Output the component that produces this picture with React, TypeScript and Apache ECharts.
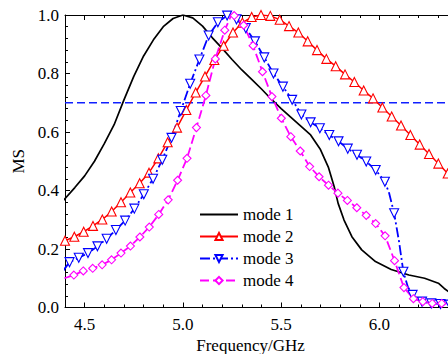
import React, { useEffect, useRef } from "react";
import * as echarts from "echarts";

const FONT = "'Times New Roman', 'Liberation Serif', 'DejaVu Serif', serif";

const seriesNames = ["mode 1", "mode 2", "mode 3", "mode 4"];
const yTicks = ["0.0", "0.2", "0.4", "0.6", "0.8", "1.0"];
const thresholdY = 0.7;

// mode 1 (black, no markers)
const m1X = [4.39, 4.45, 4.5, 4.55, 4.6, 4.65, 4.7, 4.75, 4.8, 4.85, 4.9, 4.95, 5.0, 5.05, 5.1, 5.15, 5.2, 5.25, 5.3, 5.35, 5.4, 5.45, 5.5, 5.55, 5.6, 5.65, 5.7, 5.74, 5.77, 5.79, 5.82, 5.86, 5.91, 5.98, 6.06, 6.15, 6.23, 6.3, 6.33, 6.36];
const m1Y = [0.365, 0.41, 0.45, 0.5, 0.56, 0.625, 0.71, 0.79, 0.86, 0.915, 0.96, 0.988, 1.0, 0.99, 0.962, 0.922, 0.886, 0.848, 0.812, 0.78, 0.747, 0.712, 0.68, 0.65, 0.62, 0.59, 0.54, 0.48, 0.413, 0.356, 0.299, 0.242, 0.197, 0.157, 0.13, 0.111, 0.1, 0.083, 0.065, 0.05];

// mode 2 (red, up triangles)
const m2X = [4.4, 4.4475, 4.495, 4.5425, 4.59, 4.6375, 4.685, 4.7325, 4.78, 4.8275, 4.875, 4.9225, 4.97, 5.0175, 5.065, 5.1125, 5.16, 5.2075, 5.255, 5.3025, 5.35, 5.3975, 5.445, 5.4925, 5.54, 5.5875, 5.635, 5.6825, 5.73, 5.7775, 5.825, 5.8725, 5.92, 5.9675, 6.015, 6.0625, 6.11, 6.1575, 6.205, 6.2525, 6.3, 6.3475];
const m2Y = [0.228, 0.242, 0.259, 0.279, 0.301, 0.328, 0.36, 0.393, 0.425, 0.461, 0.51, 0.565, 0.615, 0.675, 0.735, 0.79, 0.846, 0.895, 0.94, 0.974, 0.993, 1.0, 0.997, 0.984, 0.962, 0.94, 0.91, 0.88, 0.85, 0.825, 0.797, 0.771, 0.742, 0.715, 0.684, 0.653, 0.622, 0.59, 0.557, 0.525, 0.492, 0.458];

// mode 3 (blue, down triangles) marker points and extra curve points
const m3X = [4.423, 4.47, 4.517, 4.565, 4.612, 4.659, 4.706, 4.753, 4.801, 4.848, 4.895, 4.942, 4.989, 5.037, 5.084, 5.131, 5.178, 5.225, 5.273, 5.32, 5.367, 5.414, 5.461, 5.509, 5.556, 5.603, 5.65, 5.697, 5.745, 5.792, 5.839, 5.886, 5.933, 5.981, 6.028, 6.075, 6.122, 6.169, 6.217, 6.264, 6.311, 6.358];
const m3Y = [0.155, 0.17, 0.186, 0.209, 0.235, 0.265, 0.297, 0.338, 0.387, 0.44, 0.505, 0.58, 0.672, 0.765, 0.848, 0.93, 0.975, 0.998, 0.985, 0.955, 0.91, 0.855, 0.8, 0.755, 0.71, 0.66, 0.633, 0.613, 0.59, 0.568, 0.543, 0.522, 0.499, 0.47, 0.43, 0.322, 0.122, 0.043, 0.02, 0.014, 0.012, 0.01];
const m3CurveX = [4.39, 5.24, 6.05, 6.1, 6.145];
const m3CurveY = [0.125, 1.0, 0.39, 0.225, 0.07];

// mode 4 (magenta, diamonds)
const m4X = [4.397, 4.445, 4.493, 4.541, 4.589, 4.637, 4.685, 4.733, 4.781, 4.829, 4.877, 4.925, 4.973, 5.021, 5.069, 5.117, 5.165, 5.213, 5.261, 5.309, 5.357, 5.405, 5.453, 5.501, 5.549, 5.597, 5.645, 5.693, 5.741, 5.789, 5.837, 5.885, 5.933, 5.981, 6.029, 6.077, 6.125, 6.173, 6.221, 6.269, 6.317];
const m4Y = [0.1, 0.111, 0.125, 0.134, 0.146, 0.163, 0.186, 0.21, 0.241, 0.275, 0.318, 0.368, 0.435, 0.51, 0.615, 0.725, 0.85, 0.948, 0.998, 0.965, 0.895, 0.806, 0.721, 0.647, 0.584, 0.535, 0.482, 0.447, 0.418, 0.391, 0.366, 0.341, 0.315, 0.287, 0.245, 0.16, 0.068, 0.03, 0.02, 0.014, 0.014];
const m4CurveX = [5.245, 6.36];
const m4CurveY = [0.998, 0.014];

function zip(xs: number[], ys: number[]) {
  return xs.map((x, i) => [x, ys[i]]);
}

function withCurve(xs: number[], ys: number[], cx: number[], cy: number[]) {
  const pts: any[] = xs.map((x, i) => ({ value: [x, ys[i]] }));
  cx.forEach((x, i) => pts.push({ value: [x, cy[i]], symbol: "none" }));
  pts.sort((a, b) => a.value[0] - b.value[0]);
  return pts;
}

export default function App() {
  const ref = useRef<HTMLDivElement>(null);
  useEffect(() => {
    if (!ref.current) return;
    const chart = echarts.init(ref.current, null, { renderer: "svg" });
    const axisLine = { show: true, lineStyle: { color: "#000", width: 1 } };
    const xCommon = {
      type: "value",
      min: 4.4,
      max: 6.4,
      splitNumber: 5,
      axisLine,
      axisTick: { show: true, inside: true, length: 5, lineStyle: { color: "#000" } },
      minorTick: { show: true, splitNumber: 5, length: 3, lineStyle: { color: "#000" } },
      splitLine: { show: false },
    };
    chart.setOption({
      animation: false,
      backgroundColor: "#fff",
      textStyle: { fontFamily: FONT },
      grid: { left: 65, right: -10, top: 15, bottom: 46.5, containLabel: false, outerBoundsMode: "none" },
      legend: {
        orient: "vertical",
        left: 199,
        top: 206,
        padding: 0,
        itemWidth: 38,
        itemHeight: 9,
        itemGap: 5,
        data: [
          { name: seriesNames[0], itemStyle: { opacity: 0 } },
          seriesNames[1],
          seriesNames[2],
          seriesNames[3],
        ],
        textStyle: { fontFamily: FONT, fontSize: 17, color: "#000" },
      },
      xAxis: [
        {
          ...xCommon,
          position: "bottom",
          name: "Frequency/GHz",
          nameLocation: "middle",
          nameGap: 27,
          nameTextStyle: { fontFamily: FONT, fontSize: 17, color: "#000", padding: [0, 22, 0, 0] },
          axisLabel: {
            show: true,
            margin: 8,
            showMinLabel: false,
            showMaxLabel: false,
            fontFamily: FONT,
            fontSize: 17,
            color: "#000",
            formatter: (v: number) => v.toFixed(1),
          },
        },
        {
          ...xCommon,
          position: "top",
          axisLabel: { show: false },
        },
      ],
      yAxis: {
        type: "value",
        min: 0,
        max: 1,
        interval: 0.2,
        name: "MS",
        nameLocation: "middle",
        nameGap: 35,
        nameTextStyle: { fontFamily: FONT, fontSize: 17, color: "#000" },
        axisLine,
        axisTick: { show: true, inside: true, length: 5, lineStyle: { color: "#000" } },
        minorTick: { show: true, splitNumber: 5, length: 3, lineStyle: { color: "#000" } },
        splitLine: { show: false },
        axisLabel: {
          margin: 6,
          fontFamily: FONT,
          fontSize: 17,
          color: "#000",
          formatter: (v: number) => yTicks[Math.round(v / 0.2)] ?? v.toFixed(1),
        },
      },
      series: [
        {
          name: "threshold",
          type: "line",
          data: [[4.4, thresholdY], [6.4, thresholdY]],
          symbol: "none",
          lineStyle: { color: "#1020ff", width: 1.4, type: [8, 4] },
          silent: true,
        },
        {
          name: "mode 1",
          type: "line",
          data: zip(m1X, m1Y),
          symbol: "none",
          lineStyle: { color: "#000", width: 1.7 },
          itemStyle: { color: "#000" },
        },
        {
          name: "mode 2",
          type: "line",
          data: zip(m2X, m2Y),
          symbol: "triangle",
          symbolSize: 9,
          lineStyle: { color: "#ff0000", width: 1.5 },
          itemStyle: { color: "#fff", borderColor: "#ff0000", borderWidth: 1.1 },
        },
        {
          name: "mode 3",
          type: "line",
          data: withCurve(m3X, m3Y, m3CurveX, m3CurveY),
          symbol: "triangle",
          symbolRotate: 180,
          symbolSize: 9,
          lineStyle: { color: "#0000ff", width: 1.8, type: [10, 3, 2, 3] },
          itemStyle: { color: "#fff", borderColor: "#0000ff", borderWidth: 1.1 },
        },
        {
          name: "mode 4",
          type: "line",
          data: withCurve(m4X, m4Y, m4CurveX, m4CurveY),
          symbol: "diamond",
          symbolSize: 8,
          lineStyle: { color: "#ff00ff", width: 1.8, type: [9, 4] },
          itemStyle: { color: "#fff", borderColor: "#ff00ff", borderWidth: 1.1 },
        },
      ],
    });
    return () => chart.dispose();
  }, []);
  return (
    <div
      ref={ref}
      style={{ position: "fixed", left: 0, top: 0, width: 448, height: 354, background: "#fff" }}
    />
  );
}
